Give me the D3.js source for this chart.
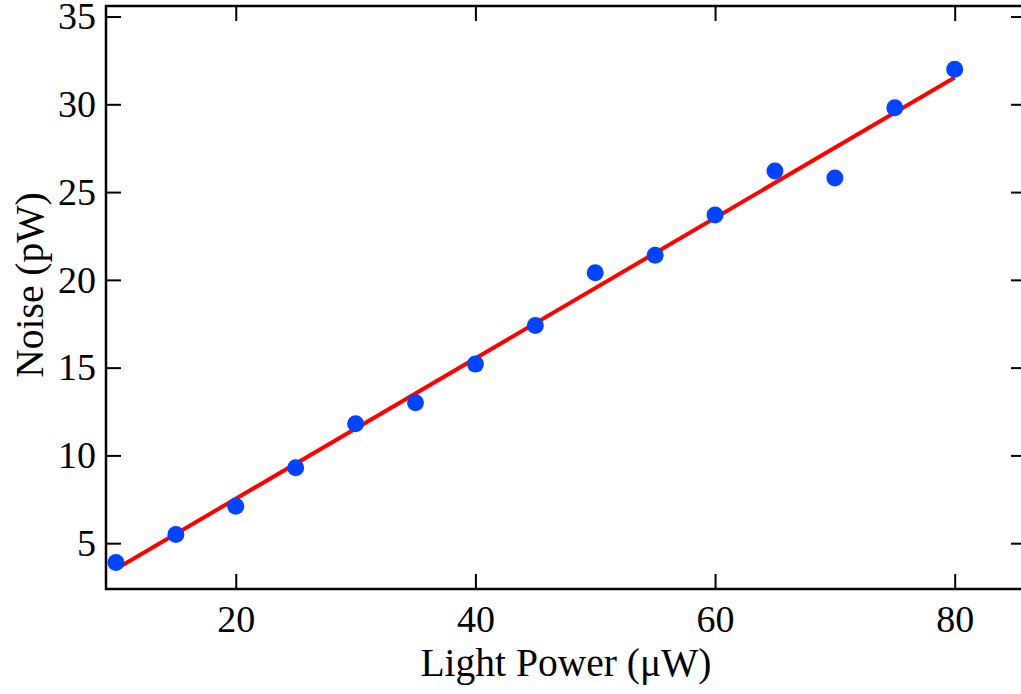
<!DOCTYPE html>
<html>
<head>
<meta charset="utf-8">
<script src="https://cdn.jsdelivr.net/npm/d3@7"></script>
<style>
  body { margin: 0; background: #fff; }
  text { font-family: "Liberation Serif", "Times New Roman", serif; fill: #000; }
</style>
</head>
<body>
<div id="root"></div>
<script>
const WIDTH = 1021;
const HEIGHT = 694;
const MARGIN = {top: 6, right: -5, bottom: 105, left: 106};

// measured points
const lightPower = [10, 15, 20, 25, 30, 35, 40, 45, 50, 55, 60, 65, 70, 75, 80];
const noise = [3.9, 5.5, 7.1, 9.3, 11.8, 13.0, 15.2, 17.4, 20.4, 21.4, 23.7, 26.2, 25.8, 29.8, 32.0];

// linear fit endpoints
const fitX = [10, 80];
const fitY = [3.53, 31.53];

const xTicks = [20, 40, 60, 80];
const yTicks = [5, 10, 15, 20, 25, 30, 35];

const xScale = d3.scaleLinear()
    .domain([9.17, 85.95])
    .range([MARGIN.left, WIDTH - MARGIN.right]);

const yScale = d3.scaleLinear()
    .domain([2.39, 35.6])
    .range([HEIGHT - MARGIN.bottom, MARGIN.top]);

const svg = d3.select("#root")
    .append("svg")
    .attr("width", WIDTH)
    .attr("height", HEIGHT);

const x0 = MARGIN.left, x1 = WIDTH - MARGIN.right;
const y0 = HEIGHT - MARGIN.bottom, y1 = MARGIN.top;
const TICK = 15;

// fit line
svg.append("path")
    .datum(fitX.map((x, i) => [x, fitY[i]]))
    .attr("fill", "none")
    .attr("stroke", "#ff0000")
    .attr("stroke-width", 4)
    .attr("d", d3.line().x(d => xScale(d[0])).y(d => yScale(d[1])));

// points
svg.selectAll(".point")
    .data(lightPower.map((x, i) => ({x, y: noise[i]})))
    .enter()
    .append("circle")
    .attr("class", "point")
    .attr("cx", d => xScale(d.x))
    .attr("cy", d => yScale(d.y))
    .attr("r", 8.5)
    .attr("fill", "#0044ff");

const axisLayer = svg.append("g").attr("class", "axisLayer");

// inward ticks on all four sides
axisLayer.append("g")
    .attr("transform", `translate(0, ${y0})`)
    .call(d3.axisBottom(xScale).tickValues(xTicks).tickSizeInner(-TICK).tickSizeOuter(0).tickPadding(16));

axisLayer.append("g")
    .attr("transform", `translate(0, ${y1})`)
    .call(d3.axisTop(xScale).tickValues(xTicks).tickSizeInner(-TICK).tickSizeOuter(0).tickFormat(""));

axisLayer.append("g")
    .attr("transform", `translate(${x0}, 0)`)
    .call(d3.axisLeft(yScale).tickValues(yTicks).tickSizeInner(-TICK).tickSizeOuter(0).tickPadding(10));

axisLayer.append("g")
    .attr("transform", `translate(${x1}, 0)`)
    .call(d3.axisRight(yScale).tickValues(yTicks).tickSizeInner(-TICK).tickSizeOuter(0).tickFormat(""));

axisLayer.selectAll(".domain").remove();
axisLayer.selectAll(".tick line").attr("stroke", "#000").attr("stroke-width", 2);
axisLayer.selectAll(".tick text").attr("font-size", 38).attr("fill", "#000");

// frame
svg.append("rect")
    .attr("x", x0)
    .attr("y", y1)
    .attr("width", x1 - x0)
    .attr("height", y0 - y1)
    .attr("fill", "none")
    .attr("stroke", "#000")
    .attr("stroke-width", 2.5);

svg.append("text")
    .attr("x", (x0 + x1) / 2)
    .attr("y", 676)
    .attr("text-anchor", "middle")
    .attr("font-size", 39.5)
    .text("Light Power (μW)");

svg.append("text")
    .attr("transform", "translate(43, 285) rotate(-90)")
    .attr("text-anchor", "middle")
    .attr("font-size", 39.5)
    .text("Noise (pW)");
</script>
</body>
</html>
